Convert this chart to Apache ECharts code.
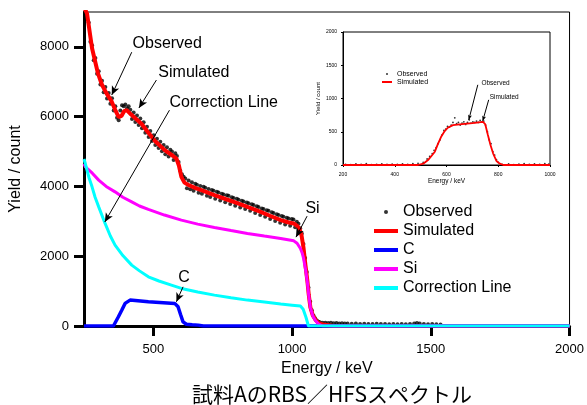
<!DOCTYPE html>
<html><head><meta charset="utf-8">
<script src="https://cdn.jsdelivr.net/npm/echarts@6/dist/echarts.min.js"></script>
<style>html,body{margin:0;padding:0;background:#fff}#c{width:587px;height:405px}</style>
</head><body><div id="c"></div><script>
// ---- main chart data (Energy keV, Yield counts) ----
const observed = [
[255,9000],[261,8800],[267,8700],[273,8150],[279,8050],[285,7620],[291,7680],[297,7230],[303,7300],[309,6920],
[315,7030],[321,6700],[327,6850],[333,6520],[339,6680],[345,6370],[351,6530],[357,6180],[363,6300],[369,5970],
[375,5900],[381,6180],[387,6330],[393,6300],[399,6350],[405,6240],[411,6300],[417,6200],[423,5930],[429,6120],
[435,5850],[441,6030],[447,5760],[453,5950],[459,5670],[465,5840],[471,5540],[477,5710],[483,5420],[489,5590],
[495,5300],[501,5470],[507,5190],[513,5370],[519,5100],[525,5280],[531,5010],[537,5190],[543,4920],[549,5120],
[555,4860],[561,5050],[567,5000],[573,4760],[579,4950],[585,4870],[591,4700],[597,4450],[603,4350],[609,4280],
[615,4230],[621,3950],[627,4170],[633,3920],[639,4120],[645,3880],[651,4080],[657,4050],[663,3820],[669,4010],
[675,3790],[681,3990],[687,3960],[693,3730],[699,3930],[705,3700],[711,3900],[717,3880],[723,3650],[729,3850],
[735,3830],[741,3600],[747,3790],[753,3770],[759,3550],[765,3750],[771,3730],[777,3500],[783,3690],[789,3670],
[795,3450],[801,3650],[807,3620],[813,3400],[819,3590],[825,3570],[831,3350],[837,3540],[843,3520],[849,3300],
[855,3490],[861,3470],[867,3240],[873,3430],[879,3410],[885,3180],[891,3370],[897,3350],[903,3130],[909,3320],
[915,3300],[921,3070],[927,3260],[933,3240],[939,3010],[945,3200],[951,3180],[957,2960],[963,3150],[969,3130],
[975,2910],[981,3100],[987,3080],[993,2870],[999,3070],[1005,3050],[1011,2830],[1017,2990],[1023,2930],[1029,2800],
[1035,2650],[1041,2350],[1047,1950],[1053,1550],[1059,1100],[1065,700],[1071,450],[1077,300],[1083,220],[1089,160],
[1095,120],[1100,110],[1110,95],[1120,90],[1130,85],[1140,90],[1150,80],[1160,85],[1170,75],[1180,80],
[1190,70],[1200,75],[1215,65],[1230,70],[1245,60],[1260,65],[1275,60],[1290,55],[1305,62],[1320,55],
[1335,60],[1350,52],[1365,58],[1380,50],[1395,55],[1410,52],[1425,58],[1440,70],[1450,85],[1460,75],
[1475,55],[1490,50],[1505,55],[1520,48],[1535,45]
];
const simulated = [
[250,9150],[261,8950],[279,7960],[300,7250],[314,6930],[330,6680],[350,6430],[365,6150],[375,5990],[385,6020],
[395,6160],[404,6190],[420,6060],[440,5920],[458,5790],[480,5560],[505,5310],[541,5040],[570,4880],[583,4800],
[592,4600],[601,4275],[612,4110],[625,4050],[650,3960],[680,3870],[720,3751],[760,3640],[800,3530],[839,3415],
[880,3290],[920,3160],[959,3034],[985,2975],[1006,2940],[1018,2870],[1027,2780],[1034,2600],[1041,2250],[1048,1750],
[1055,1300],[1060,900],[1066,530],[1075,300],[1085,170],[1095,90],[1110,40],[1150,0],[2000,0]
];
const carbon = [
[250,0],[356,0],[374,264],[386,450],[398,648],[416,742],[482,693],[577,648],[589,550],[598,330],
[607,120],[619,50],[640,35],[662,25],[680,0],[2000,0]
];
const silicon = [
[250,4650],[255,4562],[280,4380],[303,4181],[330,4000],[362,3845],[390,3690],[422,3559],[450,3440],[482,3341],
[540,3180],[601,3034],[660,2920],[720,2825],[780,2735],[839,2653],[900,2578],[959,2510],[1006,2441],[1018,2370],
[1024,2318],[1030,2220],[1036,2100],[1041,1950],[1048,1650],[1055,1250],[1060,880],[1066,529],[1075,280],[1084,157],
[1095,60],[1110,0],[2000,0]
];
const correction = [
[250,4786],[255,4650],[268,4250],[279,3989],[290,3690],[303,3415],[326,2940],[345,2580],[362,2318],[390,2020],
[422,1745],[450,1580],[482,1410],[520,1290],[565,1172],[601,1077],[660,975],[720,885],[780,810],[839,742],
[900,685],[959,628],[1000,595],[1030,570],[1040,480],[1050,250],[1059,0],[2000,0]
];
const xTicks = [500,1000,1500,2000];
const yTicks = [0,2000,4000,6000,8000];
// annotation: [label, textAnchor[x,y], arrowFrom[x,y], arrowTo[x,y]]
const mainNotes = [
['Observed',[425,8106],[422,7848],[350,6620]],
['Simulated',[518,7275],[511,7050],[448,6250]],
['Correction Line',[558,6415],[558,6186],[325,2980]],
['Si',[1048,3378],[1054,3148],[1014,2547]],
['C',[590,1401],[607,1123],[583,693]]
];
// ---- inset data ----
const insetObserved = [
[210,10],[230,5],[250,15],[270,10],[290,20],[310,5],[330,10],[350,15],[370,8],[390,12],[410,10],[430,18],[450,10],
[470,20],[490,25],[510,40],[525,90],[535,130],[545,170],[552,220],[560,260],[567,320],[575,380],[582,450],[590,520],
[597,540],[604,580],[611,570],[618,600],[625,640],[632,710],[639,620],[646,640],[653,600],[660,630],[667,650],[674,610],
[681,640],[688,680],[695,630],[702,650],[709,640],[716,660],[723,640],[730,670],[737,650],[744,660],[751,600],[758,500],
[765,380],[772,320],[779,200],[786,150],[793,80],[800,40],[815,10],[840,15],[860,5],[880,12],[900,20],[920,8],[940,15],
[960,10],[980,20],[995,12]
];
const insetSimulated = [
[200,0],[490,0],[510,20],[530,80],[545,150],[555,200],[565,300],[580,430],[593,510],[605,560],[625,600],[660,615],
[700,630],[741,650],[750,610],[760,452],[770,300],[780,176],[793,60],[806,20],[820,0],[1000,0]
];
const insetNotes = [
['Observed',[735,1236],[721,1206],[686,678]],
['Simulated',[767,1025],[763,980],[740,663]]
];

const FONT = 'Liberation Sans, Arial, sans-serif';
const plain = v => String(v);
function notesSeries(notes, xi, yi, fs, arrowSize) {
  return {
    type: 'line', name: 'notes' + xi, xAxisIndex: xi, yAxisIndex: yi, data: [], silent: true,
    markLine: {
      silent: true, animation: false, symbol: ['none', 'arrow'], symbolSize: arrowSize,
      lineStyle: { color: '#000', width: 1, type: 'solid' }, label: { show: false },
      emphasis: { disabled: true },
      data: notes.map(n => [{ coord: n[2] }, { coord: n[3] }])
    },
    markPoint: {
      silent: true, animation: false, symbol: 'circle', symbolSize: 0,
      label: { show: true, position: 'right', distance: 0, color: '#000', fontSize: fs, fontFamily: FONT, formatter: '{b}' },
      data: notes.map(n => ({ name: n[0], coord: n[1] }))
    }
  };
}
const chart = echarts.init(document.getElementById('c'), null, { renderer: 'canvas' });
chart.setOption({
  animation: false,
  backgroundColor: '#fff',
  title: {
    text: '試料AのRBS／HFSスペクトル', left: 327, top: 379, textAlign: 'center',
    textStyle: { fontFamily: 'Noto Sans CJK JP', fontSize: 21, fontWeight: 'normal', color: '#000' }
  },
  grid: [
    { left: 82, right: 16, top: 12, bottom: 79, show: true, borderColor: '#000', borderWidth: 1, backgroundColor: 'transparent' },
    { left: 343, right: 37, top: 32, bottom: 240, show: true, borderColor: '#000', borderWidth: 1, backgroundColor: '#fff' }
  ],
  legend: [
    {
      left: 369, top: 199, orient: 'vertical', itemWidth: 24, itemHeight: 4, itemGap: 3,
      textStyle: { fontSize: 16, fontFamily: FONT, color: '#000' },
      data: [
        { name: 'Observed', icon: 'circle' },
        { name: 'Simulated', icon: 'rect' },
        { name: 'C', icon: 'rect' },
        { name: 'Si', icon: 'rect' },
        { name: 'Correction Line', icon: 'rect' }
      ]
    },
    {
      left: 377, top: 65.5, orient: 'vertical', itemWidth: 10, itemHeight: 2, itemGap: 1,
      textStyle: { fontSize: 7, fontFamily: FONT, color: '#000' },
      formatter: n => n.replace(' (inset)', ''),
      data: [
        { name: 'Observed (inset)', icon: 'circle' },
        { name: 'Simulated (inset)', icon: 'rect' }
      ]
    }
  ],
  xAxis: [
    {
      type: 'value', gridIndex: 0, min: 250, max: 2000,
      name: 'Energy / keV', nameLocation: 'middle', nameGap: 31,
      nameTextStyle: { fontSize: 16, fontFamily: FONT, color: '#000' },
      axisLine: { show: true, lineStyle: { color: '#000', width: 3 } },
      axisTick: { show: true, length: 10, lineStyle: { color: '#000', width: 3 }, customValues: xTicks },
      axisLabel: { fontSize: 13, fontFamily: FONT, color: '#000', margin: 17, customValues: xTicks, formatter: plain },
      splitLine: { show: false }
    },
    {
      type: 'value', gridIndex: 1, min: 200, max: 1000, interval: 200,
      name: 'Energy / keV', nameLocation: 'middle', nameGap: 13,
      nameTextStyle: { fontSize: 6.5, fontFamily: FONT, color: '#000' },
      axisLine: { show: true, lineStyle: { color: '#000', width: 1 } },
      axisTick: { show: true, length: 2, lineStyle: { color: '#000', width: 1 } },
      axisLabel: { fontSize: 5, fontFamily: FONT, color: '#000', margin: 7, formatter: plain },
      splitLine: { show: false }
    }
  ],
  yAxis: [
    {
      type: 'value', gridIndex: 0, min: 0, max: 9000,
      name: 'Yield / count', nameLocation: 'middle', nameGap: 60,
      nameTextStyle: { fontSize: 16, fontFamily: FONT, color: '#000' },
      axisLine: { show: true, lineStyle: { color: '#000', width: 3 } },
      axisTick: { show: true, length: 10, lineStyle: { color: '#000', width: 3 }, customValues: yTicks },
      axisLabel: { fontSize: 13, fontFamily: FONT, color: '#000', margin: 15, customValues: yTicks, formatter: plain },
      splitLine: { show: false }
    },
    {
      type: 'value', gridIndex: 1, min: 0, max: 2000, interval: 500,
      name: 'Yield / count', nameLocation: 'middle', nameGap: 22,
      nameTextStyle: { fontSize: 6, fontFamily: FONT, color: '#000' },
      axisLine: { show: true, lineStyle: { color: '#000', width: 1 } },
      axisTick: { show: true, length: 2, lineStyle: { color: '#000', width: 1 } },
      axisLabel: { fontSize: 5, fontFamily: FONT, color: '#000', margin: 6, formatter: plain },
      splitLine: { show: false }
    }
  ],
  series: [
    { name: 'Observed', type: 'scatter', xAxisIndex: 0, yAxisIndex: 0, data: observed, symbol: 'circle', symbolSize: 4, itemStyle: { color: '#000' }, silent: true },
    { name: 'Simulated', type: 'line', xAxisIndex: 0, yAxisIndex: 0, data: simulated, showSymbol: false, color: '#ff0000', lineStyle: { color: '#ff0000', width: 4 }, silent: true },
    { name: 'C', type: 'line', xAxisIndex: 0, yAxisIndex: 0, data: carbon, showSymbol: false, color: '#0000ff', lineStyle: { color: '#0000ff', width: 3.5 }, silent: true },
    { name: 'Si', type: 'line', xAxisIndex: 0, yAxisIndex: 0, data: silicon, showSymbol: false, color: '#ff00ff', lineStyle: { color: '#ff00ff', width: 3 }, silent: true },
    { name: 'Correction Line', type: 'line', xAxisIndex: 0, yAxisIndex: 0, data: correction, showSymbol: false, color: '#00ffff', lineStyle: { color: '#00ffff', width: 3 }, silent: true },
    notesSeries(mainNotes, 0, 0, 16, [6, 9]),
    { name: 'Observed (inset)', type: 'scatter', xAxisIndex: 1, yAxisIndex: 1, data: insetObserved, symbol: 'circle', symbolSize: 1.8, itemStyle: { color: '#000' }, silent: true },
    { name: 'Simulated (inset)', type: 'line', xAxisIndex: 1, yAxisIndex: 1, data: insetSimulated, showSymbol: false, color: '#ff0000', lineStyle: { color: '#ff0000', width: 1.8 }, silent: true },
    notesSeries(insetNotes, 1, 1, 6.5, [3, 5])
  ]
});
</script></body></html>
